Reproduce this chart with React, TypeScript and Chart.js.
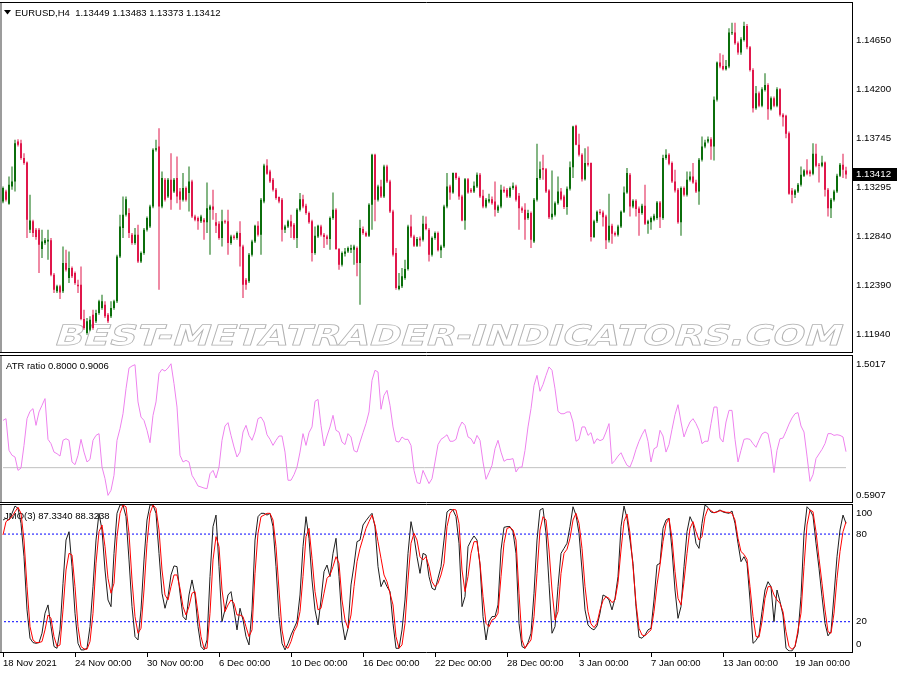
import React, { useEffect, useRef } from 'react';
import { Chart, registerables } from 'chart.js';

Chart.register(...registerables);

const symbolTitle = 'EURUSD,H4';

const opens = [
  1.13163, 1.13255, 1.13141, 1.13301, 1.13347, 1.13715, 1.13700, 1.13562, 1.13522, 1.12902,
  1.12979, 1.12902, 1.12902, 1.12724, 1.12779, 1.12794, 1.12804, 1.12487, 1.12334, 1.12380,
  1.12334, 1.12595, 1.12457, 1.12549, 1.12503, 1.12395, 1.12395, 1.12079, 1.11950, 1.11981,
  1.12119, 1.12058, 1.12134, 1.12180, 1.12211, 1.12119, 1.12104, 1.12180, 1.12242, 1.12656,
  1.12917, 1.13040, 1.13055, 1.12856, 1.12779, 1.12856, 1.12610, 1.12687, 1.12902, 1.12932,
  1.13117, 1.13639, 1.13669, 1.13117, 1.13362, 1.13209, 1.13362, 1.13255, 1.13378, 1.13255,
  1.13178, 1.13286, 1.13240, 1.13347, 1.13025, 1.13009, 1.12979, 1.12994, 1.12970, 1.13086,
  1.13117, 1.12970, 1.12957, 1.12825, 1.12979, 1.12979, 1.12779, 1.12840, 1.12825, 1.12871,
  1.12748, 1.12441, 1.12426, 1.12672, 1.12794, 1.12939, 1.12856, 1.13163, 1.13494, 1.13439,
  1.13362, 1.13270, 1.13203, 1.13178, 1.12902, 1.12932, 1.12979, 1.12948, 1.12825, 1.13086,
  1.13184, 1.13123, 1.13055, 1.12979, 1.12687, 1.12840, 1.12932, 1.12856, 1.12840, 1.12816,
  1.13009, 1.13086, 1.12724, 1.12579, 1.12681, 1.12702, 1.12718, 1.12718, 1.12733, 1.12595,
  1.12908, 1.12871, 1.12846, 1.13132, 1.13593, 1.13178, 1.13301, 1.13209, 1.13485, 1.13347,
  1.13071, 1.12687, 1.12355, 1.12380, 1.12457, 1.12540, 1.12932, 1.12840, 1.12754, 1.12822,
  1.12810, 1.12957, 1.12902, 1.12672, 1.12825, 1.12871, 1.12712, 1.12748, 1.13117, 1.13301,
  1.13246, 1.13424, 1.13378, 1.13209, 1.12988, 1.13368, 1.13270, 1.13255, 1.13301, 1.13408,
  1.13215, 1.13117, 1.13163, 1.13184, 1.13163, 1.13080, 1.13117, 1.13270, 1.13270, 1.13209,
  1.13286, 1.13301, 1.13215, 1.13101, 1.13086, 1.13009, 1.13055, 1.12794, 1.13178, 1.13378,
  1.13470, 1.13460, 1.13264, 1.13018, 1.13040, 1.13147, 1.13255, 1.13209, 1.13111, 1.13280,
  1.13479, 1.13860, 1.13685, 1.13593, 1.13368, 1.13516, 1.13516, 1.12834, 1.12979, 1.13068,
  1.13061, 1.13025, 1.12804, 1.12939, 1.12871, 1.12856, 1.12932, 1.13068, 1.13246, 1.13408,
  1.13117, 1.13169, 1.13098, 1.13055, 1.13123, 1.12957, 1.12970, 1.12994, 1.13009, 1.13153,
  1.13009, 1.13562, 1.13593, 1.13516, 1.13347, 1.13270, 1.12970, 1.13286, 1.13224, 1.13362,
  1.13393, 1.13338, 1.13255, 1.13546, 1.13669, 1.13715, 1.13737, 1.13669, 1.14099, 1.14443,
  1.14412, 1.14381, 1.14406, 1.14713, 1.14719, 1.14621, 1.14535, 1.14652, 1.14781, 1.14584,
  1.14375, 1.14022, 1.14160, 1.14044, 1.14191, 1.14237, 1.14013, 1.14114, 1.14044, 1.14197,
  1.13961, 1.13952, 1.13792, 1.13264, 1.13224, 1.13255, 1.13316, 1.13399, 1.13448, 1.13439,
  1.13417, 1.13602, 1.13500, 1.13491, 1.13522, 1.13270, 1.13101, 1.13178, 1.13255, 1.13399,
  1.13500, 1.13449,
];

const highs = [
  1.13301, 1.13270, 1.13393, 1.13485, 1.13731, 1.13737, 1.13731, 1.13608, 1.13531, 1.13224,
  1.12994, 1.12917, 1.12917, 1.12902, 1.12825, 1.12902, 1.12825, 1.12503, 1.12395, 1.12395,
  1.12748, 1.12718, 1.12702, 1.12564, 1.12518, 1.12441, 1.12564, 1.12165, 1.12088, 1.12104,
  1.12165, 1.12165, 1.12257, 1.12303, 1.12242, 1.12134, 1.12242, 1.12257, 1.12672, 1.13040,
  1.13209, 1.13209, 1.13101, 1.12871, 1.12917, 1.12948, 1.12702, 1.12917, 1.13025, 1.13132,
  1.13654, 1.13731, 1.13838, 1.13439, 1.13378, 1.13378, 1.13608, 1.13378, 1.13577, 1.13286,
  1.13424, 1.13301, 1.13485, 1.13362, 1.13040, 1.13025, 1.13040, 1.13009, 1.13338, 1.13132,
  1.13270, 1.13055, 1.12979, 1.13086, 1.12994, 1.13086, 1.12856, 1.12856, 1.12886, 1.12979,
  1.12764, 1.12457, 1.12687, 1.12810, 1.12948, 1.12979, 1.13194, 1.13510, 1.13552, 1.13454,
  1.13378, 1.13286, 1.13209, 1.13194, 1.12948, 1.12994, 1.13040, 1.12963, 1.13101, 1.13240,
  1.13224, 1.13141, 1.13071, 1.12994, 1.12932, 1.12948, 1.12948, 1.12871, 1.12856, 1.13025,
  1.13246, 1.13101, 1.12733, 1.12702, 1.12733, 1.12748, 1.12764, 1.12764, 1.12748, 1.12994,
  1.12932, 1.12886, 1.13147, 1.13602, 1.13602, 1.13316, 1.13362, 1.13500, 1.13500, 1.13362,
  1.13086, 1.12733, 1.12503, 1.12549, 1.12625, 1.12948, 1.13040, 1.12856, 1.12834, 1.12840,
  1.13031, 1.13025, 1.12917, 1.12840, 1.12886, 1.12886, 1.12764, 1.13132, 1.13424, 1.13316,
  1.13430, 1.13430, 1.13393, 1.13224, 1.13378, 1.13378, 1.13286, 1.13347, 1.13430, 1.13424,
  1.13270, 1.13194, 1.13234, 1.13209, 1.13347, 1.13132, 1.13316, 1.13301, 1.13286, 1.13301,
  1.13338, 1.13316, 1.13240, 1.13117, 1.13147, 1.13086, 1.13071, 1.13194, 1.13694, 1.13531,
  1.13593, 1.13470, 1.13276, 1.13448, 1.13163, 1.13393, 1.13286, 1.13224, 1.13301, 1.13531,
  1.13860, 1.13869, 1.13786, 1.13608, 1.13654, 1.13669, 1.13522, 1.12994, 1.13080, 1.13092,
  1.13080, 1.13040, 1.13234, 1.12957, 1.12886, 1.12948, 1.13080, 1.13301, 1.13470, 1.13424,
  1.13184, 1.13184, 1.13117, 1.13141, 1.13316, 1.12994, 1.13025, 1.13049, 1.13166, 1.13166,
  1.13593, 1.13644, 1.13608, 1.13531, 1.13454, 1.13286, 1.13301, 1.13301, 1.13439, 1.13439,
  1.13516, 1.13362, 1.13562, 1.13761, 1.13731, 1.13761, 1.13755, 1.14130, 1.14452, 1.14529,
  1.14514, 1.14467, 1.14759, 1.14811, 1.14811, 1.14636, 1.14676, 1.14820, 1.14799, 1.14596,
  1.14391, 1.14228, 1.14176, 1.14216, 1.14345, 1.14253, 1.14130, 1.14130, 1.14216, 1.14207,
  1.13976, 1.13961, 1.13808, 1.13286, 1.13276, 1.13332, 1.13485, 1.13460, 1.13552, 1.13454,
  1.13700, 1.13694, 1.13516, 1.13583, 1.13531, 1.13286, 1.13194, 1.13270, 1.13417, 1.13516,
  1.13602, 1.13483,
];

const lows = [
  1.13147, 1.13163, 1.13132, 1.13270, 1.13255, 1.13669, 1.13546, 1.13500, 1.12825, 1.12871,
  1.12834, 1.12810, 1.12503, 1.12641, 1.12764, 1.12625, 1.12472, 1.12318, 1.12318, 1.12263,
  1.12318, 1.12518, 1.12411, 1.12457, 1.12395, 1.12318, 1.12067, 1.11981, 1.11934, 1.11965,
  1.11981, 1.12042, 1.12119, 1.12165, 1.12088, 1.12042, 1.12088, 1.12165, 1.12226, 1.12641,
  1.12825, 1.13025, 1.12825, 1.12764, 1.12764, 1.12595, 1.12595, 1.12672, 1.12886, 1.12917,
  1.13101, 1.13623, 1.12349, 1.13101, 1.13163, 1.13194, 1.13086, 1.13240, 1.13147, 1.13086,
  1.13163, 1.13163, 1.13071, 1.13009, 1.12979, 1.12902, 1.12963, 1.12810, 1.12871, 1.12672,
  1.12994, 1.12871, 1.12810, 1.12748, 1.12957, 1.12672, 1.12764, 1.12810, 1.12810, 1.12564,
  1.12272, 1.12349, 1.12411, 1.12656, 1.12779, 1.12840, 1.12672, 1.13147, 1.13408, 1.13332,
  1.13255, 1.13178, 1.13147, 1.12794, 1.12871, 1.12917, 1.12825, 1.12810, 1.12733, 1.13071,
  1.13101, 1.13040, 1.12957, 1.12610, 1.12672, 1.12825, 1.12840, 1.12733, 1.12764, 1.12718,
  1.12994, 1.12718, 1.12533, 1.12564, 1.12656, 1.12687, 1.12687, 1.12579, 1.12472, 1.12211,
  1.12856, 1.12834, 1.12834, 1.12902, 1.12979, 1.13163, 1.13194, 1.13194, 1.13332, 1.13055,
  1.12656, 1.12349, 1.12343, 1.12364, 1.12441, 1.12527, 1.12825, 1.12742, 1.12742, 1.12748,
  1.12794, 1.12896, 1.12610, 1.12656, 1.12810, 1.12702, 1.12641, 1.12733, 1.13101, 1.13178,
  1.13234, 1.13362, 1.13178, 1.12979, 1.12902, 1.13234, 1.13240, 1.13240, 1.13286, 1.13194,
  1.13101, 1.13101, 1.13147, 1.13132, 1.13025, 1.13055, 1.13101, 1.13240, 1.13194, 1.13194,
  1.13270, 1.13163, 1.12902, 1.13055, 1.12810, 1.12994, 1.12733, 1.12779, 1.13163, 1.13362,
  1.13362, 1.13240, 1.13000, 1.12994, 1.13025, 1.13132, 1.13172, 1.13092, 1.13040, 1.13264,
  1.13378, 1.13680, 1.13577, 1.13347, 1.13356, 1.13485, 1.12794, 1.12825, 1.12963, 1.13040,
  1.12932, 1.12724, 1.12785, 1.12773, 1.12840, 1.12840, 1.12917, 1.13055, 1.13234, 1.13025,
  1.13101, 1.13025, 1.12846, 1.13040, 1.12945, 1.12865, 1.12902, 1.12979, 1.12994, 1.12917,
  1.12994, 1.13546, 1.13497, 1.13332, 1.13246, 1.12957, 1.12846, 1.13209, 1.13209, 1.13347,
  1.13325, 1.13240, 1.13132, 1.13531, 1.13654, 1.13700, 1.13546, 1.13540, 1.14084, 1.14391,
  1.14369, 1.14369, 1.14391, 1.14698, 1.14606, 1.14514, 1.14514, 1.14636, 1.14566, 1.14360,
  1.13982, 1.14007, 1.14031, 1.14031, 1.14176, 1.13915, 1.14001, 1.14031, 1.14031, 1.13946,
  1.13854, 1.13746, 1.13224, 1.13147, 1.13194, 1.13240, 1.13301, 1.13387, 1.13405, 1.13393,
  1.13405, 1.13479, 1.13338, 1.13479, 1.13209, 1.13025, 1.13009, 1.13163, 1.13240, 1.13387,
  1.13378, 1.13373,
];

const closes = [
  1.13286, 1.13178, 1.13316, 1.13347, 1.13700, 1.13685, 1.13562, 1.13516, 1.12994, 1.12988,
  1.12871, 1.12834, 1.12764, 1.12794, 1.12804, 1.12810, 1.12487, 1.12349, 1.12380, 1.12324,
  1.12595, 1.12533, 1.12549, 1.12472, 1.12411, 1.12380, 1.12079, 1.11996, 1.12058, 1.12073,
  1.11996, 1.12134, 1.12242, 1.12242, 1.12104, 1.12058, 1.12180, 1.12242, 1.12656, 1.12932,
  1.13040, 1.13184, 1.12871, 1.12779, 1.12856, 1.12610, 1.12687, 1.12902, 1.13009, 1.13117,
  1.13639, 1.13654, 1.13117, 1.13378, 1.13178, 1.13362, 1.13178, 1.13362, 1.13209, 1.13178,
  1.13286, 1.13178, 1.13347, 1.13025, 1.12994, 1.12979, 1.13025, 1.12970, 1.13101, 1.13117,
  1.13086, 1.12939, 1.12825, 1.12979, 1.12970, 1.12779, 1.12840, 1.12825, 1.12871, 1.12748,
  1.12395, 1.12395, 1.12672, 1.12794, 1.12939, 1.12856, 1.13178, 1.13494, 1.13417, 1.13347,
  1.13270, 1.13194, 1.13163, 1.12902, 1.12932, 1.12979, 1.12932, 1.12825, 1.13086, 1.13184,
  1.13117, 1.13055, 1.12970, 1.12687, 1.12846, 1.12939, 1.12856, 1.12834, 1.12816, 1.13009,
  1.13086, 1.12724, 1.12579, 1.12687, 1.12702, 1.12733, 1.12733, 1.12748, 1.12595, 1.12917,
  1.12871, 1.12846, 1.13132, 1.13593, 1.13178, 1.13301, 1.13209, 1.13485, 1.13347, 1.13071,
  1.12672, 1.12364, 1.12386, 1.12472, 1.12540, 1.12932, 1.12840, 1.12754, 1.12816, 1.12804,
  1.12957, 1.12908, 1.12672, 1.12825, 1.12871, 1.12712, 1.12748, 1.13117, 1.13301, 1.13246,
  1.13424, 1.13378, 1.13209, 1.12988, 1.13368, 1.13246, 1.13255, 1.13307, 1.13408, 1.13209,
  1.13117, 1.13178, 1.13184, 1.13147, 1.13086, 1.13117, 1.13270, 1.13255, 1.13209, 1.13286,
  1.13307, 1.13178, 1.13101, 1.13080, 1.12994, 1.13055, 1.12810, 1.13178, 1.13378, 1.13460,
  1.13454, 1.13255, 1.13018, 1.13049, 1.13147, 1.13255, 1.13184, 1.13111, 1.13280, 1.13479,
  1.13854, 1.13685, 1.13593, 1.13368, 1.13516, 1.13500, 1.12834, 1.12979, 1.13068, 1.13055,
  1.13018, 1.12804, 1.12939, 1.12865, 1.12856, 1.12932, 1.13068, 1.13246, 1.13424, 1.13117,
  1.13169, 1.13092, 1.13055, 1.13123, 1.12957, 1.12979, 1.13009, 1.13031, 1.13153, 1.13018,
  1.13562, 1.13593, 1.13510, 1.13347, 1.13264, 1.12970, 1.13286, 1.13224, 1.13362, 1.13393,
  1.13338, 1.13255, 1.13546, 1.13669, 1.13706, 1.13737, 1.13669, 1.14099, 1.14443, 1.14406,
  1.14381, 1.14412, 1.14719, 1.14719, 1.14621, 1.14535, 1.14658, 1.14781, 1.14584, 1.14375,
  1.14022, 1.14160, 1.14044, 1.14197, 1.14237, 1.14013, 1.14114, 1.14044, 1.14197, 1.13961,
  1.13939, 1.13786, 1.13233, 1.13224, 1.13264, 1.13316, 1.13408, 1.13448, 1.13417, 1.13417,
  1.13602, 1.13491, 1.13491, 1.13522, 1.13270, 1.13101, 1.13178, 1.13255, 1.13399, 1.13500,
  1.13454, 1.13412,
];

const priceTicks = [1.1465, 1.142, 1.13745, 1.13295, 1.1284, 1.1239, 1.1194];
const priceMin = 1.11784;
const priceMax = 1.14992;

const atrRatio = [
  1.097, 1.108, 0.909, 0.878, 0.867, 0.783, 0.798, 0.940, 1.108, 1.154,
  1.171, 1.066, 1.150, 1.192, 1.234, 0.978, 0.951, 0.898, 0.888, 0.873,
  0.972, 0.982, 0.972, 0.836, 0.819, 0.878, 0.978, 0.898, 0.836, 0.852,
  0.972, 1.003, 1.014, 0.804, 0.731, 0.626, 0.658, 0.752, 0.972, 1.045,
  1.139, 1.296, 1.426, 1.439, 1.447, 1.213, 1.118, 1.097, 1.035, 0.957,
  1.129, 1.213, 1.391, 1.418, 1.407, 1.426, 1.453, 1.328, 1.181, 0.878,
  0.836, 0.846, 0.836, 0.752, 0.721, 0.685, 0.679, 0.672, 0.668, 0.762,
  0.783, 0.735, 0.804, 0.972, 1.062, 1.083, 1.003, 0.930, 0.867, 0.898,
  1.024, 1.066, 1.003, 0.972, 1.024, 1.108, 1.118, 1.087, 1.007, 0.978,
  0.940, 0.972, 0.999, 0.999, 0.898, 0.721, 0.721, 0.756, 0.804, 0.898,
  1.014, 0.940, 1.020, 1.056, 1.217, 1.229, 1.066, 0.936, 0.999, 1.056,
  1.129, 1.035, 1.024, 0.961, 0.945, 1.014, 0.993, 0.907, 0.898, 0.961,
  1.020, 1.077, 1.150, 1.349, 1.412, 1.401, 1.167, 1.255, 1.286, 1.192,
  1.056, 0.966, 0.961, 0.993, 0.978, 0.978, 0.940, 0.783, 0.706, 0.700,
  0.783, 0.741, 0.700, 0.731, 0.836, 0.945, 0.978, 0.991, 1.007, 0.966,
  0.966, 0.978, 1.049, 1.087, 1.066, 0.993, 0.982, 0.949, 1.003, 0.972,
  0.836, 0.727, 0.769, 0.815, 0.919, 0.972, 0.898, 0.840, 0.852, 0.852,
  0.857, 0.773, 0.802, 0.804, 0.909, 1.056, 1.171, 1.317, 1.380, 1.280,
  1.322, 1.380, 1.433, 1.412, 1.296, 1.154, 1.139, 1.139, 1.150, 1.150,
  1.087, 0.966, 0.978, 1.056, 1.056, 1.003, 1.020, 0.951, 0.982, 0.970,
  0.978, 1.024, 1.077, 0.825, 0.846, 0.873, 0.894, 0.852, 0.815, 0.804,
  0.852, 0.915, 0.966, 1.007, 1.041, 0.966, 0.836, 0.919, 0.930, 1.035,
  0.999, 0.898, 0.945, 1.041, 1.133, 1.196, 1.087, 0.993, 1.045, 1.087,
  1.108, 1.077, 1.035, 0.951, 0.966, 0.966, 1.077, 1.181, 1.181, 0.986,
  0.961, 1.087, 1.160, 1.160, 0.978, 0.836, 0.909, 0.978, 0.982, 0.978,
  0.951, 0.928, 0.972, 1.012, 1.024, 1.014, 0.919, 0.769, 0.909, 0.982,
  0.986, 1.028, 1.074, 1.112, 1.139, 1.146, 1.062, 1.024, 0.873, 0.714,
  0.756, 0.857, 0.886, 0.915, 0.951, 1.014, 1.014, 1.003, 1.007, 1.003,
  0.993, 0.9006,
];
const atrLevel = 0.8;
const atrMin = 0.5907;
const atrMax = 1.5017;

const jmoMain = [
  89.6, 90.8, 89.6, 94.2, 99.2, 97.6, 87.3, 64.5, 28.1, 8.7,
  5.7, 5.2, 5.7, 12.1, 25.8, 31.5, 16.6, 3.0, 1.8, 14.4,
  46.3, 75.9, 81.6, 57.7, 25.8, 5.2, 0.7, 0.7, 1.8, 16.6,
  44.0, 75.9, 94.2, 82.8, 55.4, 34.9, 30.3, 66.8, 94.2, 99.9,
  99.9, 91.9, 62.3, 30.3, 9.8, 7.5, 28.1, 62.3, 89.6, 99.9,
  99.9, 94.2, 66.8, 39.5, 29.2, 37.2, 52.0, 58.2, 57.7, 39.5,
  23.5, 21.2, 38.3, 48.6, 38.3, 16.6, 3.0, 0.7, 7.5, 50.9,
  85.1, 93.0, 57.7, 20.1, 28.1, 38.3, 40.6, 28.1, 14.4, 29.2,
  21.2, 9.8, 4.1, 28.1, 75.9, 91.9, 94.2, 94.2, 93.0, 94.2,
  85.1, 57.7, 23.5, 5.2, 0.7, 5.2, 10.9, 15.5, 20.1, 38.3,
  71.4, 91.9, 77.1, 48.6, 28.1, 17.8, 34.9, 54.3, 58.8, 50.9,
  66.8, 77.1, 50.9, 20.1, 7.5, 15.5, 45.2, 58.8, 74.8, 75.9,
  86.2, 89.2, 91.9, 94.2, 85.1, 57.7, 44.0, 48.6, 44.0, 40.6,
  18.9, 1.8, 1.8, 14.4, 34.9, 66.8, 88.5, 78.2, 64.5, 53.1,
  66.8, 65.7, 50.9, 42.9, 41.7, 49.7, 57.7, 75.9, 95.1, 96.9,
  96.5, 91.9, 73.7, 30.3, 37.2, 71.4, 75.5, 78.7, 75.9, 58.8,
  23.5, 7.5, 20.1, 23.5, 23.5, 31.5, 69.1, 84.6, 85.1, 85.1,
  81.6, 66.8, 18.9, 3.0, 1.8, 5.7, 12.1, 39.5, 75.9, 96.5,
  97.6, 80.5, 46.3, 12.1, 16.6, 44.0, 66.8, 70.2, 73.7, 85.1,
  98.7, 93.0, 80.5, 55.4, 28.1, 17.8, 15.5, 14.4, 17.1, 25.8,
  38.3, 37.2, 34.9, 28.1, 36.0, 50.9, 85.1, 99.2, 90.8, 75.9,
  60.0, 30.3, 9.4, 8.7, 10.9, 14.4, 15.5, 34.9, 58.8, 60.0,
  83.9, 89.6, 90.8, 69.1, 41.7, 22.3, 30.3, 57.7, 81.6, 91.9,
  87.3, 73.7, 70.2, 87.3, 99.9, 98.3, 95.1, 94.6, 95.3, 96.5,
  95.1, 94.6, 94.2, 95.8, 87.3, 73.7, 61.1, 64.5, 60.0, 34.9,
  5.2, 7.1, 10.9, 26.9, 41.7, 47.4, 44.0, 20.1, 41.7, 33.8,
  24.6, 1.8, 0.0, 0.0, 3.0, 12.1, 37.2, 80.5, 98.7, 96.5,
  92.4, 73.7, 56.6, 37.2, 18.9, 10.3, 13.2, 38.3, 64.5, 82.8,
  93.0, 87.334,
];

const jmoSignal = [
  79.4, 88.5, 90.1, 91.9, 95.3, 98.3, 94.2, 75.9, 44.0, 16.6,
  7.5, 5.7, 5.7, 6.4, 14.4, 24.6, 22.3, 9.8, 3.0, 4.1,
  28.1, 55.4, 66.8, 65.7, 44.0, 16.6, 3.0, 1.4, 1.1, 6.4,
  25.8, 60.0, 81.6, 86.2, 71.4, 49.7, 39.5, 46.3, 78.2, 94.2,
  99.9, 98.7, 80.5, 48.6, 23.5, 12.1, 15.5, 41.7, 73.7, 94.2,
  99.9, 97.6, 82.8, 55.4, 38.3, 34.9, 44.0, 52.0, 52.0, 42.9,
  30.3, 24.6, 30.3, 39.5, 40.6, 25.8, 9.8, 1.8, 1.8, 25.8,
  62.3, 78.2, 71.4, 41.7, 26.9, 31.5, 34.9, 32.6, 24.6, 24.6,
  23.5, 16.6, 9.8, 14.4, 53.1, 80.5, 91.9, 93.0, 94.2, 94.2,
  89.6, 71.4, 41.7, 14.4, 3.0, 1.8, 6.4, 13.2, 17.1, 26.9,
  50.9, 78.2, 83.9, 63.4, 40.6, 28.1, 29.2, 39.5, 49.7, 52.0,
  57.7, 64.5, 60.0, 34.9, 21.2, 15.5, 24.6, 44.0, 61.1, 70.2,
  77.1, 83.9, 88.5, 93.0, 86.2, 74.8, 63.4, 52.0, 47.4, 39.5,
  31.5, 9.8, 1.8, 4.1, 18.9, 48.6, 73.7, 80.5, 75.9, 64.5,
  62.3, 64.5, 57.7, 47.4, 44.0, 46.3, 52.0, 60.0, 85.1, 94.2,
  96.9, 96.5, 87.3, 55.4, 40.6, 50.9, 66.8, 74.8, 74.8, 60.0,
  37.2, 18.9, 16.6, 21.2, 22.3, 25.8, 50.9, 73.7, 83.9, 84.6,
  82.8, 75.9, 39.5, 7.5, 1.8, 4.8, 7.5, 23.5, 53.1, 82.8,
  91.9, 89.6, 69.1, 41.7, 21.2, 26.9, 53.1, 66.8, 69.6, 77.1,
  89.6, 94.2, 87.3, 70.2, 44.0, 26.9, 18.5, 16.0, 18.9, 28.1,
  34.4, 37.2, 36.0, 33.1, 34.9, 46.7, 69.1, 88.5, 93.7, 80.5,
  57.7, 32.6, 15.5, 10.9, 10.3, 12.5, 14.4, 26.9, 45.2, 58.8,
  74.8, 86.9, 90.8, 77.1, 54.3, 36.0, 31.5, 47.4, 66.8, 83.9,
  88.5, 81.6, 75.9, 78.2, 91.9, 97.6, 96.0, 94.6, 95.1, 96.0,
  95.6, 94.9, 94.9, 94.2, 89.6, 77.1, 68.0, 66.1, 62.7, 44.0,
  23.5, 9.8, 9.4, 20.1, 36.0, 44.0, 44.0, 38.3, 34.9, 32.6,
  26.9, 13.2, 3.0, 1.1, 3.0, 14.4, 25.8, 57.7, 86.2, 96.5,
  95.3, 81.6, 63.4, 46.3, 28.1, 13.2, 12.1, 25.8, 49.7, 68.0,
  81.6, 88.3238,
];
const jmoLevels = [80, 20];
const jmoMin = -0.4;
const jmoMax = 99.9;

const timeLabels = [
  '18 Nov 2021', '24 Nov 00:00', '30 Nov 00:00', '6 Dec 00:00', '10 Dec 00:00', '16 Dec 00:00',
  '22 Dec 00:00', '28 Dec 00:00', '3 Jan 00:00', '7 Jan 00:00', '13 Jan 00:00', '19 Jan 00:00',
];
const timeLabelBars = [0, 24, 48, 72, 96, 120, 144, 168, 192, 216, 240, 264];

const FONT = '"Liberation Sans", Arial, sans-serif';
const BULL = '#0b6e0b';
const BEAR = '#e0174b';
const lastIdx = closes.length - 1;

function xScaleOpts() {
  return { type: 'linear' as const, min: -1, max: closes.length + 1, display: false, offset: false };
}

function drawFrame(ctx: CanvasRenderingContext2D, topY: number, bottomY: number, h: number) {
  ctx.save();
  ctx.fillStyle = '#9c9c9c';
  ctx.fillRect(0, Math.floor(topY), 2, h);
  ctx.strokeStyle = '#000';
  ctx.lineWidth = 1;
  ctx.beginPath();
  ctx.moveTo(0, topY); ctx.lineTo(853, topY);
  ctx.moveTo(0, bottomY); ctx.lineTo(853, bottomY);
  ctx.moveTo(852.5, topY); ctx.lineTo(852.5, bottomY);
  ctx.stroke();
  ctx.restore();
}

const mainDecor = {
  id: 'mainDecor',
  beforeDatasetsDraw(chart: any) {
    const ctx: CanvasRenderingContext2D = chart.ctx;
    ctx.save();
    ctx.fillStyle = '#000';
    ctx.beginPath();
    ctx.moveTo(4, 10); ctx.lineTo(11, 10); ctx.lineTo(7.5, 14.5); ctx.closePath();
    ctx.fill();
    ctx.font = `9.5px ${FONT}`;
    ctx.textBaseline = 'middle';
    ctx.textAlign = 'left';
    const o = opens[lastIdx], h = highs[lastIdx], l = lows[lastIdx], c = closes[lastIdx];
    ctx.fillText(`${symbolTitle}  ${o.toFixed(5)} ${h.toFixed(5)} ${l.toFixed(5)} ${c.toFixed(5)}`, 15, 13);
    ctx.restore();

    // watermark (drawn beneath the candles)
    ctx.save();
    const wm = 'BEST-METATRADER-INDICATORS.COM';
    ctx.font = `bold 28px "DejaVu Sans", sans-serif`;
    const w = ctx.measureText(wm).width;
    ctx.translate(53, 345);
    ctx.transform(1, 0, -0.32, 1, 0, 0);
    ctx.scale(787 / w, 1);
    ctx.strokeStyle = '#b2b2b2';
    ctx.lineWidth = 0.75;
    ctx.strokeText(wm, 0, 0);
    ctx.restore();
  },
  afterDraw(chart: any) {
    const ctx: CanvasRenderingContext2D = chart.ctx;
    const y = chart.scales.y;
    drawFrame(ctx, 2.5, 352.5, 351);

    ctx.save();
    ctx.fillStyle = '#000';
    ctx.font = `9.7px ${FONT}`;
    ctx.textBaseline = 'middle';
    ctx.textAlign = 'left';
    priceTicks.forEach((v) => {
      const py = y.getPixelForValue(v);
      ctx.fillText(v.toFixed(5), 856, py);
    });
    const c = closes[lastIdx];
    const py = y.getPixelForValue(c);
    ctx.fillRect(853, Math.round(py - 6.5), 44, 13);
    ctx.fillStyle = '#fff';
    ctx.fillText(c.toFixed(5), 856, Math.round(py - 6.5) + 6.5);
    ctx.restore();
  },
};

const atrDecor = {
  id: 'atrDecor',
  beforeDatasetsDraw(chart: any) {
    const ctx: CanvasRenderingContext2D = chart.ctx;
    ctx.save();
    ctx.fillStyle = '#000';
    ctx.font = `9.5px ${FONT}`;
    ctx.textBaseline = 'middle';
    ctx.fillText(`ATR ratio ${atrLevel.toFixed(4)} ${atrRatio[lastIdx].toFixed(4)}`, 6, 13);
    ctx.restore();
  },
  afterDraw(chart: any) {
    const ctx: CanvasRenderingContext2D = chart.ctx;
    const a = chart.chartArea;
    drawFrame(ctx, 2.5, 149.5, 148);
    ctx.save();
    ctx.fillStyle = '#000';
    ctx.font = `9.7px ${FONT}`;
    ctx.textBaseline = 'middle';
    ctx.fillText(atrMax.toFixed(4), 856, a.top + 8);
    ctx.fillText(atrMin.toFixed(4), 856, a.bottom - 6);
    ctx.restore();
  },
};

const jmoDecor = {
  id: 'jmoDecor',
  beforeDatasetsDraw(chart: any) {
    const ctx: CanvasRenderingContext2D = chart.ctx;
    ctx.save();
    ctx.fillStyle = '#000';
    ctx.font = `9.5px ${FONT}`;
    ctx.textBaseline = 'middle';
    ctx.fillText(`JMO(3) ${jmoMain[lastIdx].toFixed(4)} ${jmoSignal[lastIdx].toFixed(4)}`, 4, 13);
    ctx.restore();
  },
  afterDraw(chart: any) {
    const ctx: CanvasRenderingContext2D = chart.ctx;
    const a = chart.chartArea;
    const y = chart.scales.y;
    const x = chart.scales.x;
    drawFrame(ctx, 1.5, 149.5, 149);
    ctx.save();
    ctx.fillStyle = '#000';
    ctx.font = `9.7px ${FONT}`;
    ctx.textBaseline = 'middle';
    ctx.fillText('100', 856, a.top + 8);
    jmoLevels.forEach((v) => ctx.fillText(String(v), 856, y.getPixelForValue(v)));
    ctx.fillText('0', 856, a.bottom - 7.5);
    ctx.font = `9.5px ${FONT}`;
    ctx.strokeStyle = '#000';
    ctx.lineWidth = 1;
    timeLabelBars.forEach((b, i) => {
      const px = Math.round(x.getPixelForValue(b));
      ctx.beginPath();
      ctx.moveTo(px + 0.5, 150);
      ctx.lineTo(px + 0.5, 154);
      ctx.stroke();
      ctx.fillText(timeLabels[i], px, 160);
    });
    ctx.restore();
  },
};

export default function App() {
  const mainRef = useRef<HTMLCanvasElement>(null);
  const atrRef = useRef<HTMLCanvasElement>(null);
  const jmoRef = useRef<HTMLCanvasElement>(null);

  useEffect(() => {
    const bodyColors = closes.map((c, i) => (c >= opens[i] ? BULL : BEAR));
    const mainChart = new Chart(mainRef.current!, {
      type: 'bar',
      data: {
        datasets: [
          {
            data: closes.map((c, i) => ({ x: i, y: [opens[i], c] })) as any,
            backgroundColor: bodyColors,
            barThickness: 2,
            minBarLength: 1,
            grouped: false,
            borderWidth: 0,
            inflateAmount: 0,
            order: 0,
          } as any,
          {
            data: highs.map((h, i) => ({ x: i, y: [lows[i], h] })) as any,
            backgroundColor: bodyColors,
            barThickness: 1,
            grouped: false,
            borderWidth: 0,
            inflateAmount: 0,
            order: 1,
          } as any,
        ],
      },
      options: {
        responsive: false,
        animation: false,
        events: [],
        layout: { padding: { left: 0, right: 48, top: 3, bottom: 2 } },
        scales: {
          x: xScaleOpts(),
          y: { min: priceMin, max: priceMax, display: false },
        },
        plugins: { legend: { display: false }, tooltip: { enabled: false } },
      } as any,
      plugins: [mainDecor],
    });

    const atrChart = new Chart(atrRef.current!, {
      type: 'line',
      data: {
        datasets: [
          {
            data: atrRatio.map((v, i) => ({ x: i, y: v })),
            borderColor: '#ee82ee',
            borderWidth: 1,
            pointRadius: 0,
            tension: 0,
            borderJoinStyle: 'round',
            order: 0,
          },
          {
            data: [{ x: 0, y: atrLevel }, { x: lastIdx, y: atrLevel }],
            borderColor: '#c0c0c0',
            borderWidth: 1,
            pointRadius: 0,
            order: 1,
          },
        ],
      },
      options: {
        responsive: false,
        animation: false,
        events: [],
        layout: { padding: { left: 0, right: 48, top: 3, bottom: 2 } },
        scales: {
          x: xScaleOpts(),
          y: { min: atrMin, max: atrMax, display: false },
        },
        plugins: { legend: { display: false }, tooltip: { enabled: false } },
      } as any,
      plugins: [atrDecor],
    });

    const jmoChart = new Chart(jmoRef.current!, {
      type: 'line',
      data: {
        datasets: [
          {
            data: jmoSignal.map((v, i) => ({ x: i, y: v })),
            borderColor: '#ff0000',
            borderWidth: 1,
            pointRadius: 0,
            tension: 0,
            borderJoinStyle: 'round',
            order: 0,
          },
          {
            data: jmoMain.map((v, i) => ({ x: i, y: v })),
            borderColor: '#1e1e1e',
            borderWidth: 1,
            pointRadius: 0,
            tension: 0,
            borderJoinStyle: 'round',
            order: 1,
          },
          ...jmoLevels.map((lv) => ({
            data: [{ x: -1, y: lv }, { x: closes.length + 1, y: lv }],
            borderColor: '#0000ff',
            borderWidth: 1,
            borderDash: [2, 2],
            pointRadius: 0,
            order: 2,
          })),
        ],
      },
      options: {
        responsive: false,
        animation: false,
        events: [],
        layout: { padding: { left: 0, right: 48, top: 2, bottom: 23.5 } },
        scales: {
          x: xScaleOpts(),
          y: { min: jmoMin, max: jmoMax, display: false },
        },
        plugins: { legend: { display: false }, tooltip: { enabled: false } },
      } as any,
      plugins: [jmoDecor],
    });

    return () => {
      mainChart.destroy();
      atrChart.destroy();
      jmoChart.destroy();
    };
  }, []);

  return (
    <div style={{ position: 'fixed', left: 0, top: 0, width: 900, height: 675, background: '#fff', overflow: 'hidden' }}>
      <canvas ref={mainRef} width={900} height={353} style={{ position: 'absolute', left: 0, top: 0 }} />
      <canvas ref={atrRef} width={900} height={150} style={{ position: 'absolute', left: 0, top: 353 }} />
      <canvas ref={jmoRef} width={900} height={172} style={{ position: 'absolute', left: 0, top: 503 }} />
    </div>
  );
}
